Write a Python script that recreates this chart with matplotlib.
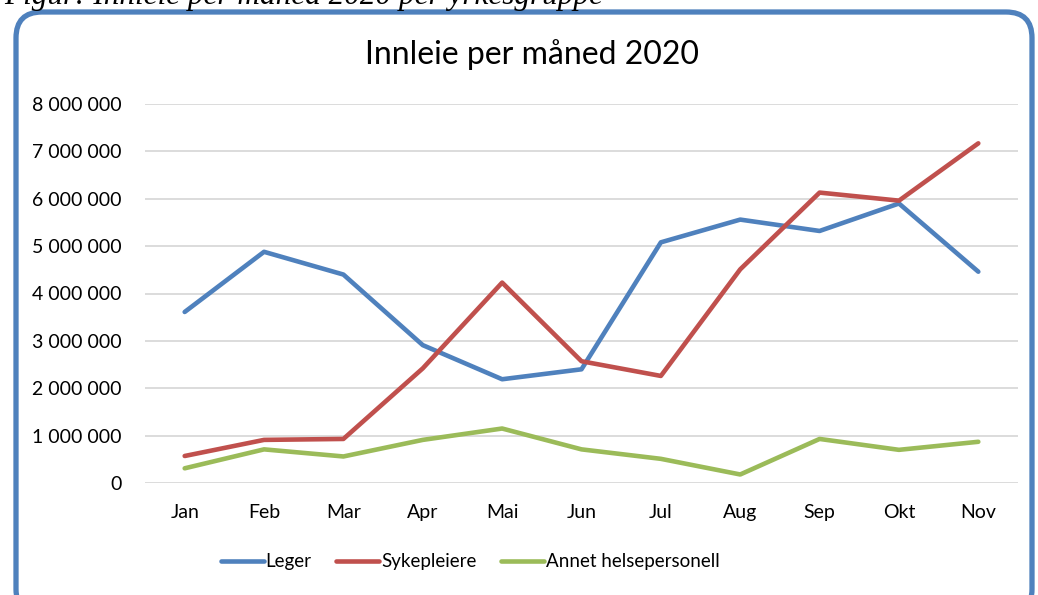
import matplotlib
matplotlib.use("Agg")
import matplotlib.pyplot as plt
from matplotlib.patches import FancyBboxPatch
from matplotlib.ticker import FuncFormatter

months = ["Jan", "Feb", "Mar", "Apr", "Mai", "Jun", "Jul", "Aug", "Sep", "Okt", "Nov"]
leger = [3610000, 4880000, 4400000, 2910000, 2190000, 2400000, 5080000, 5560000, 5320000, 5900000, 4460000]
sykepleiere = [570000, 910000, 930000, 2420000, 4230000, 2570000, 2260000, 4510000, 6130000, 5960000, 7170000]
annet = [310000, 710000, 560000, 910000, 1150000, 710000, 510000, 180000, 930000, 700000, 870000]

plt.rcParams['font.family'] = ['Lato', 'DejaVu Sans']

W, H = 1038, 595
fig = plt.figure(figsize=(W / 100, H / 100), dpi=100)

# rounded blue frame, partly cut off by the figure edge
frame = FancyBboxPatch((16 / W, -20 / H), (1032 - 16) / W, (H - 12 + 20) / H,
                       boxstyle="round,pad=0,rounding_size=0.025",
                       transform=fig.transFigure, fill=False,
                       edgecolor='#4F81BD', linewidth=3.8,
                       mutation_aspect=W / H, clip_on=False)
fig.patches.append(frame)

# caption above the frame, clipped at the top
fig.text(4 / W, 1 - 4 / H, "Figur: Innleie per måned 2020 per yrkesgruppe",
         family=['Liberation Serif'], style='italic', fontsize=22.5,
         ha='left', va='baseline')

ax = fig.add_axes([145 / W, 1 - 483 / H, (1018 - 145) / W, (483 - 104) / H])
x = range(len(months))
ax.plot(x, leger, color='#4F81BD', lw=3.3, label='Leger', solid_capstyle='round')
ax.plot(x, sykepleiere, color='#C0504D', lw=3.3, label='Sykepleiere', solid_capstyle='round')
ax.plot(x, annet, color='#9BBB59', lw=3.3, label='Annet helsepersonell', solid_capstyle='round')

ax.set_xlim(-0.5, len(months) - 0.5)
ax.set_ylim(0, 8000000)
ax.set_yticks(range(0, 8000001, 1000000))
ax.yaxis.set_major_formatter(FuncFormatter(lambda v, p: f"{int(v):,}".replace(",", " ")))
ax.set_xticks(list(x))
ax.set_xticklabels(months)
ax.grid(axis='y', color='#D9D9D9', lw=1.3)
ax.set_axisbelow(True)
for s in ax.spines.values():
    s.set_visible(False)
ax.tick_params(axis='both', length=0, labelsize=14)
ax.tick_params(axis='y', pad=17)
ax.tick_params(axis='x', pad=15)

fig.text(532 / W, 1 - 55 / H, "Innleie per måned 2020", fontsize=23,
         ha='center', va='center')

fig.legend(loc='center', bbox_to_anchor=(470 / W, 1 - 562 / H), ncol=3, frameon=False,
           fontsize=13.5, handlelength=2.3, handletextpad=0.1, columnspacing=1.3)

fig.savefig("out.png", dpi=100)
